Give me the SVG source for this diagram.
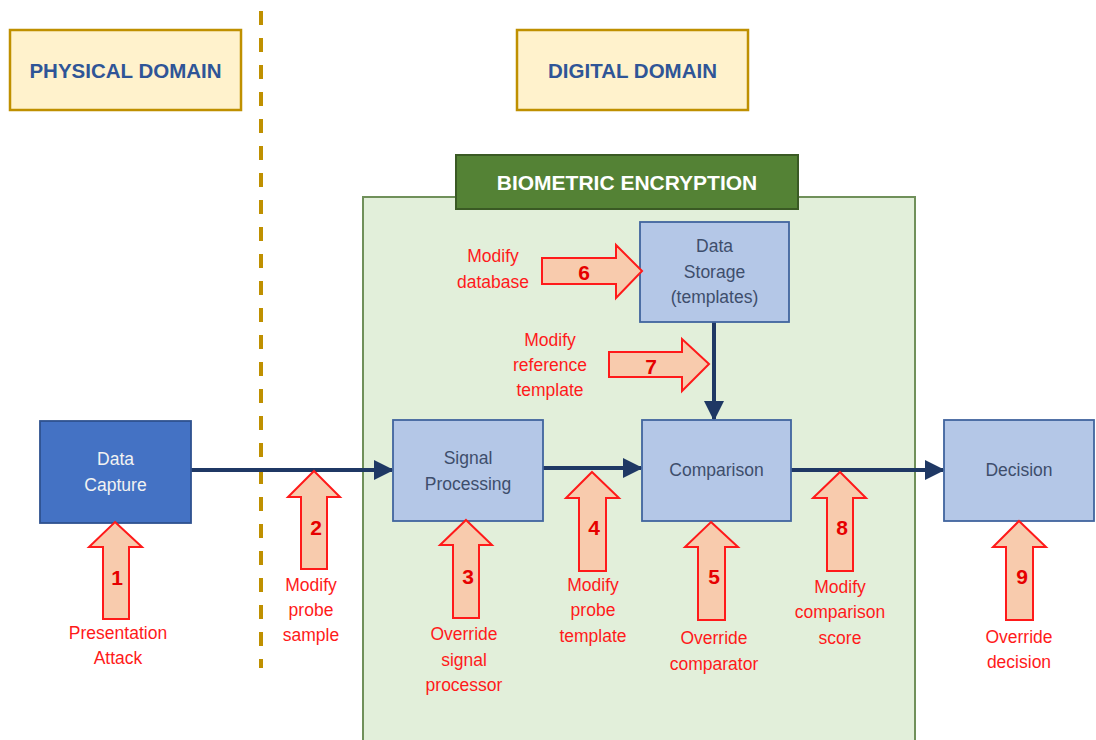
<svg xmlns="http://www.w3.org/2000/svg" width="1096" height="740" viewBox="0 0 1096 740">
<style>
.dom{fill:#FFF2CC;stroke:#BF9000;stroke-width:2.5}
.domt{font-family:"Liberation Sans",Arial,sans-serif;font-weight:bold;font-size:20.5px;fill:#2F5597;text-anchor:middle}
.box{fill:#B4C7E7;stroke:#41649E;stroke-width:1.8}
.boxt{font-family:"Liberation Sans",Arial,sans-serif;font-size:17.5px;fill:#3E4E6C;text-anchor:middle}
.atk{fill:#F8CBAD;stroke:#FF1A1A;stroke-width:2}
.num{font-family:"Liberation Sans",Arial,sans-serif;font-weight:bold;font-size:21px;fill:#E60000;text-anchor:middle}
.lbl{font-family:"Liberation Sans",Arial,sans-serif;font-size:17.5px;fill:#FF1A1A;text-anchor:middle}
.con{stroke:#1F3864;stroke-width:4;fill:none}
</style>
<defs>
<marker id="ah" markerWidth="5" markerHeight="5" refX="4.5" refY="2.5" orient="auto" markerUnits="strokeWidth">
<path d="M0,0 L5,2.5 L0,5 Z" fill="#1F3864"/>
</marker>
</defs>
<rect width="1096" height="740" fill="#FFFFFF"/>

<g id="physical-domain">
<rect class="dom" x="10" y="30" width="231" height="80"/>
<text class="domt" x="125.5" y="78">PHYSICAL DOMAIN</text>
</g>
<g id="digital-domain">
<rect class="dom" x="517" y="30" width="231" height="80"/>
<text class="domt" x="632.5" y="78">DIGITAL DOMAIN</text>
</g>
<g id="domain-divider">
<line x1="261" y1="11" x2="261" y2="668" stroke="#BF9000" stroke-width="4" stroke-dasharray="14,13"/>
</g>

<g id="biometric-encryption">
<rect x="363" y="197" width="552" height="560" fill="#E2EFDA" stroke="#70905A" stroke-width="2"/>
<rect x="456" y="155" width="342" height="54" fill="#548235" stroke="#3A5A24" stroke-width="2"/>
<text x="627" y="190" font-family="Liberation Sans, Arial, sans-serif" font-weight="bold" font-size="21px" fill="#FFFFFF" text-anchor="middle">BIOMETRIC ENCRYPTION</text>
</g>

<g id="connectors">
<line class="con" x1="191" y1="470" x2="392" y2="470" marker-end="url(#ah)"/>
<line class="con" x1="543" y1="468" x2="641" y2="468" marker-end="url(#ah)"/>
<line class="con" x1="791" y1="470" x2="943" y2="470" marker-end="url(#ah)"/>
<line class="con" x1="714" y1="322" x2="714" y2="419" marker-end="url(#ah)"/>
</g>

<g id="data-capture">
<rect x="40" y="421" width="151" height="102" fill="#4472C4" stroke="#2F528F" stroke-width="1.8"/>
<text class="boxt" x="115.5" y="465" style="fill:#F2F2F2">Data</text>
<text class="boxt" x="115.5" y="491" style="fill:#F2F2F2">Capture</text>
</g>
<g id="signal-processing">
<rect class="box" x="393" y="420" width="150" height="101"/>
<text class="boxt" x="468" y="464">Signal</text>
<text class="boxt" x="468" y="490">Processing</text>
</g>
<g id="comparison">
<rect class="box" x="642" y="420" width="149" height="101"/>
<text class="boxt" x="716.5" y="476">Comparison</text>
</g>
<g id="decision">
<rect class="box" x="944" y="420" width="150" height="101"/>
<text class="boxt" x="1019" y="476">Decision</text>
</g>
<g id="data-storage">
<rect class="box" x="640" y="222" width="149" height="100"/>
<text class="boxt" x="714.5" y="252">Data</text>
<text class="boxt" x="714.5" y="278">Storage</text>
<text class="boxt" x="714.5" y="303">(templates)</text>
</g>

<g id="attack-1">
<polygon class="atk" points="115,522 142,547 129,547 129,619 103,619 103,547 89,547"/>
<text class="num" x="117" y="585">1</text>
<text class="lbl" x="118" y="639">Presentation</text>
<text class="lbl" x="118" y="664">Attack</text>
</g>
<g id="attack-2">
<polygon class="atk" points="314,471 340,497 327,497 327,569 301,569 301,497 288,497"/>
<text class="num" x="316" y="535">2</text>
<text class="lbl" x="311" y="591">Modify</text>
<text class="lbl" x="311" y="616">probe</text>
<text class="lbl" x="311" y="641">sample</text>
</g>
<g id="attack-3">
<polygon class="atk" points="466,520 492,545 479,545 479,618 453,618 453,545 440,545"/>
<text class="num" x="468" y="584">3</text>
<text class="lbl" x="464" y="640">Override</text>
<text class="lbl" x="464" y="666">signal</text>
<text class="lbl" x="464" y="691">processor</text>
</g>
<g id="attack-4">
<polygon class="atk" points="592,472 619,498 606,498 606,571 579,571 579,498 566,498"/>
<text class="num" x="594" y="535">4</text>
<text class="lbl" x="593" y="591">Modify</text>
<text class="lbl" x="593" y="616">probe</text>
<text class="lbl" x="593" y="642">template</text>
</g>
<g id="attack-5">
<polygon class="atk" points="711,522 738,547 725,547 725,620 698,620 698,547 685,547"/>
<text class="num" x="714" y="584">5</text>
<text class="lbl" x="714" y="644">Override</text>
<text class="lbl" x="714" y="670">comparator</text>
</g>
<g id="attack-6">
<polygon class="atk" points="642,271 616,245 616,258 542,258 542,284 616,284 616,298"/>
<text class="num" x="584" y="280">6</text>
<text class="lbl" x="493" y="262">Modify</text>
<text class="lbl" x="493" y="288">database</text>
</g>
<g id="attack-7">
<polygon class="atk" points="709,364 682,339 682,352 609,352 609,377 682,377 682,391"/>
<text class="num" x="651" y="374">7</text>
<text class="lbl" x="550" y="346">Modify</text>
<text class="lbl" x="550" y="371">reference</text>
<text class="lbl" x="550" y="396">template</text>
</g>
<g id="attack-8">
<polygon class="atk" points="840,472 866,498 853,498 853,571 827,571 827,498 813,498"/>
<text class="num" x="842" y="535">8</text>
<text class="lbl" x="840" y="593">Modify</text>
<text class="lbl" x="840" y="618">comparison</text>
<text class="lbl" x="840" y="644">score</text>
</g>
<g id="attack-9">
<polygon class="atk" points="1019,521 1046,547 1033,547 1033,620 1006,620 1006,547 993,547"/>
<text class="num" x="1022" y="584">9</text>
<text class="lbl" x="1019" y="643">Override</text>
<text class="lbl" x="1019" y="668">decision</text>
</g>
</svg>
